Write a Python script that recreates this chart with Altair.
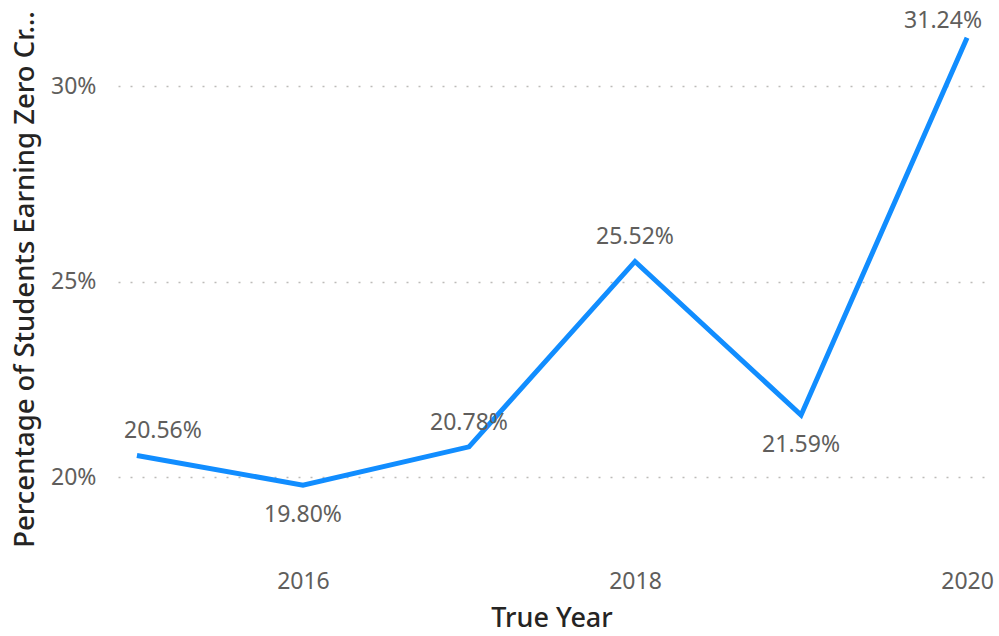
import altair as alt
import pandas as pd

years = [2015, 2016, 2017, 2018, 2019, 2020]
pct = [20.56, 19.80, 20.78, 25.52, 21.59, 31.24]
labels_below = [2016, 2019]
y_ticks = [20, 25, 30]
x_ticks = [2016, 2018, 2020]

df = pd.DataFrame({"year": years, "pct": pct})

LFONT = "Noto Sans"
TFONT = "Noto Sans"
LSIZE = 23
W, H = 867, 528

x = alt.X("year:Q",
          scale=alt.Scale(domain=[2014.886, 2020.108], nice=False, zero=False),
          axis=alt.Axis(values=x_ticks, format="d", title="True Year",
                        grid=False, domain=False, ticks=False,
                        labelFont=LFONT, labelFontSize=LSIZE, labelColor="#605E5C",
                        labelPadding=34, titleFont=TFONT, titleFontSize=27,
                        titleFontWeight=500, titleColor="#252423", titlePadding=12))
y = alt.Y("pct:Q",
          scale=alt.Scale(domain=[18.5, 32], nice=False, zero=False),
          axis=alt.Axis(values=y_ticks, labelExpr="datum.value + '%'",
                        title="Percentage of Students Earning Zero Cr…",
                        grid=True, gridDash=[2, 10], gridColor="#BDBBB9", gridWidth=1.5,
                        domain=False, ticks=False,
                        labelFont=LFONT, labelFontSize=LSIZE, labelColor="#605E5C",
                        labelPadding=22, titleFont=TFONT, titleFontSize=27.5,
                        titleFontWeight=500, titleColor="#252423",
                        titleX=-93, titleY=271, titleBaseline="middle"))

base = alt.Chart(df)
line = base.mark_line(color="#118DFF", strokeWidth=5, strokeJoin="miter").encode(x=x, y=y)

def lab(filter_years, dx, dy, align="center"):
    return base.transform_filter(
        alt.FieldOneOfPredicate(field="year", oneOf=filter_years)
    ).transform_calculate(
        txt="format(datum.pct, '.2f') + '%'"
    ).mark_text(font=LFONT, fontSize=LSIZE, color="#605E5C", dx=dx, dy=dy,
                align=align, baseline="middle").encode(x=x, y=y, text="txt:N")

text = alt.layer(
    lab([2015], 26, -24),
    lab([2017, 2018], 0, -24),
    lab([2020], -24, -17),
    lab(labels_below, 0, 30),
)

chart = alt.layer(line, text).properties(
    width=W, height=H,
    autosize=alt.AutoSizeParams(type="none"),
    padding={"left": 118, "top": 8, "right": 14, "bottom": 100},
).configure_view(stroke=None)

chart.save("out.html", embed_options={"renderer": "svg", "actions": False})
